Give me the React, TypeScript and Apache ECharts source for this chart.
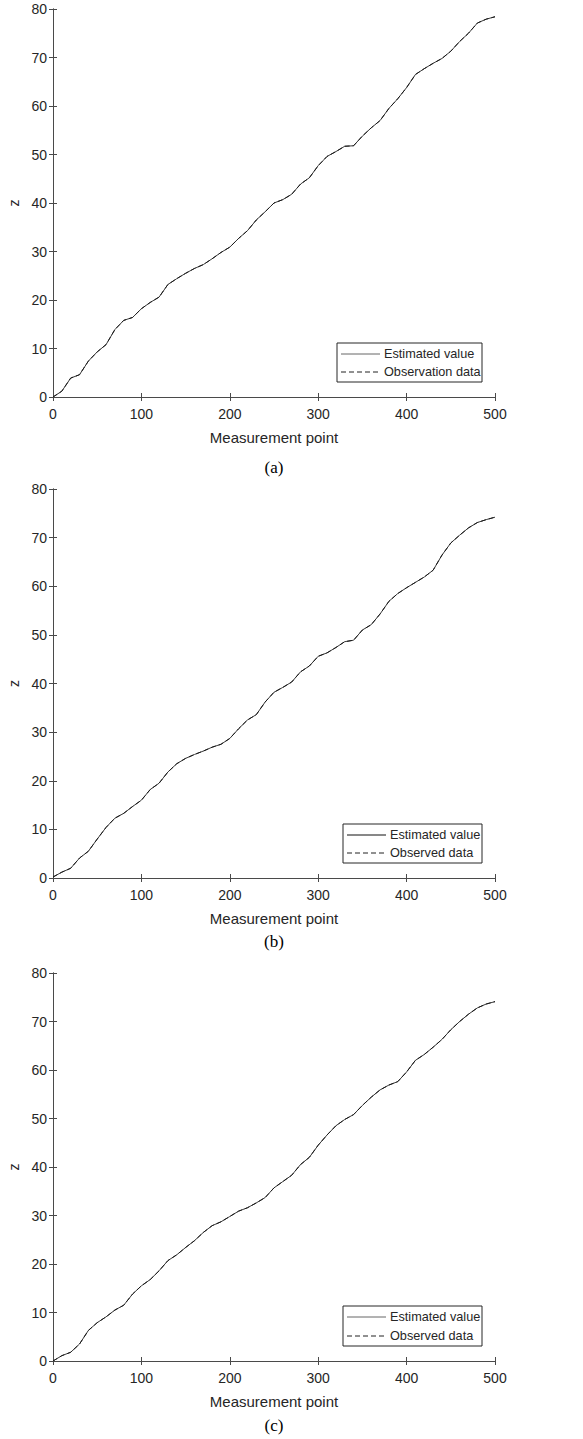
import React, { useEffect, useRef } from "react";
import * as echarts from "echarts";

const measurementPoints = [
  0, 10, 20, 30, 40, 50, 60, 70, 80, 90, 100, 110, 120, 130, 140, 150, 160, 170, 180, 190,
  200, 210, 220, 230, 240, 250, 260, 270, 280, 290, 300, 310, 320, 330, 340, 350, 360, 370,
  380, 390, 400, 410, 420, 430, 440, 450, 460, 470, 480, 490, 500,
];

// (a)
const zA = [
  0, 1.2, 3.9, 4.6, 7.4, 9.3, 10.8, 13.9, 15.8, 16.4, 18.2, 19.5, 20.6, 23.2, 24.4, 25.5, 26.5,
  27.3, 28.5, 29.8, 30.9, 32.7, 34.3, 36.5, 38.2, 40.0, 40.7, 41.8, 43.9, 45.2, 47.7, 49.6, 50.6,
  51.7, 51.8, 53.8, 55.5, 57.0, 59.5, 61.5, 63.8, 66.5, 67.7, 68.8, 69.8, 71.3, 73.3, 75.0, 77.1,
  77.9, 78.4,
];
// (b)
const zB = [
  0.2, 1.2, 2.0, 4.1, 5.5, 8.0, 10.4, 12.3, 13.3, 14.7, 16.0, 18.2, 19.5, 21.8, 23.5, 24.6, 25.4,
  26.1, 26.9, 27.5, 28.7, 30.7, 32.5, 33.6, 36.2, 38.2, 39.2, 40.3, 42.4, 43.6, 45.6, 46.3, 47.4,
  48.6, 48.9, 51.0, 52.1, 54.3, 56.9, 58.5, 59.7, 60.8, 61.9, 63.3, 66.4, 68.9, 70.5, 72.0, 73.1,
  73.7, 74.2,
];
// (c)
const zC = [
  0, 1.1, 1.8, 3.5, 6.3, 7.9, 9.1, 10.5, 11.5, 13.8, 15.5, 16.8, 18.6, 20.7, 21.9, 23.4, 24.8,
  26.5, 27.9, 28.7, 29.8, 30.9, 31.6, 32.6, 33.7, 35.7, 37.0, 38.3, 40.5, 42.0, 44.5, 46.6, 48.5,
  49.8, 50.8, 52.7, 54.4, 55.9, 56.9, 57.6, 59.6, 62.0, 63.2, 64.7, 66.3, 68.3, 70.0, 71.5, 72.8,
  73.6, 74.1,
];

const panelLabels = ["(a)", "(b)", "(c)"];
const observedNames = ["Observation data", "Observed data", "Observed data"];
const estimatedName = "Estimated value";
const xTitle = "Measurement point";
const yTitle = "z";

const FONT = "'Liberation Sans', Arial, Helvetica, sans-serif";
const INK = "#262626";
const AXIS = "#4a4a4a";

export default function App() {
  const ref = useRef<HTMLDivElement>(null);

  useEffect(() => {
    if (!ref.current) return;
    const chart = echarts.init(ref.current, undefined, { renderer: "svg" });

    const panels = [
      { top: 9, height: 388, data: zA, labelGap: 70, legend: { x: 337, y: 343, w: 145, h: 39 } },
      { top: 489, height: 389, data: zB, labelGap: 63, legend: { x: 343, y: 824, w: 139, h: 39 } },
      { top: 973, height: 388, data: zC, labelGap: 64, legend: { x: 343, y: 1306, w: 139, h: 40 } },
    ];
    const left = 53;
    const width = 442;

    const grid: any[] = [];
    const xAxis: any[] = [];
    const yAxis: any[] = [];
    const series: any[] = [];
    const graphic: any[] = [];

    panels.forEach((p, i) => {
      grid.push({ left, top: p.top, width, height: p.height, outerBoundsMode: "none" });
      const axisLine = { show: true, lineStyle: { color: AXIS, width: 1 } };
      const axisTick = { show: true, inside: true, length: 4, lineStyle: { color: AXIS, width: 1 } };
      xAxis.push({
        type: "value",
        gridIndex: i,
        min: 0,
        max: 500,
        interval: 100,
        position: "bottom",
        axisLine,
        axisTick,
        splitLine: { show: false },
        axisLabel: { color: INK, fontSize: 14, fontFamily: FONT, margin: 10 },
        name: xTitle,
        nameLocation: "middle",
        nameGap: 33,
        nameTextStyle: { color: INK, fontSize: 15, fontFamily: FONT },
      });
      xAxis.push({
        type: "value",
        gridIndex: i,
        min: 0,
        max: 500,
        interval: 100,
        position: "top",
        axisLine,
        axisTick,
        splitLine: { show: false },
        axisLabel: { show: false },
      });
      yAxis.push({
        type: "value",
        gridIndex: i,
        min: 0,
        max: 80,
        interval: 10,
        position: "left",
        axisLine,
        axisTick,
        splitLine: { show: false },
        axisLabel: { color: INK, fontSize: 14, fontFamily: FONT, margin: 6 },
        name: yTitle,
        nameLocation: "middle",
        nameRotate: 90,
        nameGap: 22,
        nameTextStyle: { color: INK, fontSize: 14, fontFamily: FONT },
      });
      yAxis.push({
        type: "value",
        gridIndex: i,
        min: 0,
        max: 80,
        interval: 10,
        position: "right",
        axisLine,
        axisTick,
        splitLine: { show: false },
        axisLabel: { show: false },
      });

      const pts = measurementPoints.map((x, k) => [x, p.data[k]]);
      series.push({
        type: "line",
        name: estimatedName,
        xAxisIndex: i * 2,
        yAxisIndex: i * 2,
        data: pts,
        symbol: "none",
        lineStyle: { color: "#3a3a3a", width: 1, type: "solid" },
      });
      series.push({
        type: "line",
        name: observedNames[i],
        xAxisIndex: i * 2,
        yAxisIndex: i * 2,
        data: pts,
        symbol: "none",
        lineStyle: { color: "#1a1a1a", width: 1, type: [5, 3] },
      });

      const L = p.legend;
      const y1 = L.y + 11;
      const y2 = L.y + L.h - 10;
      graphic.push({
        type: "group",
        children: [
          {
            type: "rect",
            shape: { x: L.x, y: L.y, width: L.w, height: L.h },
            style: { fill: "#ffffff", stroke: "#262626", lineWidth: 1 },
            z: 100,
          },
          {
            type: "line",
            shape: { x1: L.x + 4, y1, x2: L.x + 43, y2: y1 },
            style: { stroke: i === 1 ? "#111" : "#666", lineWidth: 1 },
            z: 101,
          },
          {
            type: "line",
            shape: { x1: L.x + 4, y1: y2, x2: L.x + 43, y2 },
            style: { stroke: "#222", lineWidth: 1, lineDash: [5, 3] },
            z: 101,
          },
          {
            type: "text",
            x: L.x + 47,
            y: y1,
            z: 101,
            style: {
              text: estimatedName,
              fill: INK,
              font: `12.7px ${FONT}`,
              verticalAlign: "middle",
            },
          },
          {
            type: "text",
            x: L.x + 47,
            y: y2,
            z: 101,
            style: {
              text: observedNames[i],
              fill: INK,
              font: `12.7px ${FONT}`,
              verticalAlign: "middle",
            },
          },
        ],
      });

      graphic.push({
        type: "text",
        x: left + width / 2,
        y: p.top + p.height + p.labelGap,
        style: {
          text: panelLabels[i],
          fill: "#000",
          font: "17px 'Liberation Serif', 'Times New Roman', serif",
          align: "center",
          verticalAlign: "middle",
        },
      });
    });

    chart.setOption({
      animation: false,
      backgroundColor: "#ffffff",
      grid,
      xAxis,
      yAxis,
      series,
      graphic,
    });

    return () => chart.dispose();
  }, []);

  return (
    <div
      ref={ref}
      style={{ position: "absolute", left: 0, top: 0, width: 583, height: 1439, background: "#fff" }}
    />
  );
}
